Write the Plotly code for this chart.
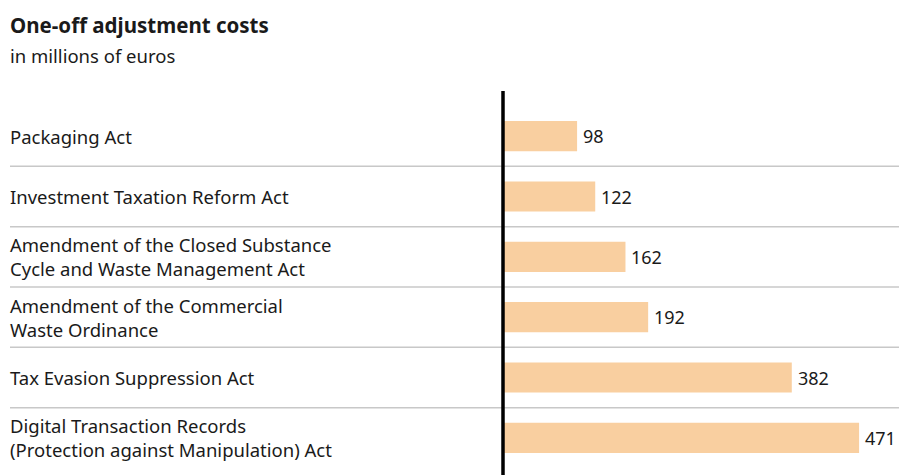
import plotly.graph_objects as go

categories = [
    "Packaging Act",
    "Investment Taxation Reform Act",
    "Amendment of the Closed Substance<br>Cycle and Waste Management Act",
    "Amendment of the Commercial<br>Waste Ordinance",
    "Tax Evasion Suppression Act",
    "Digital Transaction Records<br>(Protection against Manipulation) Act",
]
values = [98, 122, 162, 192, 382, 471]
title = "One-off adjustment costs"
subtitle = "in millions of euros"

W, H = 899, 475
FONT = "Noto Sans"
TXT = "#1a1a1a"
BAR = "#f9cfa0"

top_px, bot_px = 106, 468
ml, mr = 0, 0
mt, mb = top_px, H - bot_px
ph = bot_px - top_px
zero_px = 503
ppu = 0.756
xmin = -zero_px / ppu
xmax = (W - zero_px) / ppu

def py2paper(py):
    return (bot_px - py) / ph

ypos = list(range(len(categories)))

fig = go.Figure()
fig.add_trace(go.Bar(
    x=values, y=ypos, orientation="h",
    marker=dict(color=BAR, line=dict(width=0)),
    width=0.5, hoverinfo="skip",
))

annotations = []
for i, (c, v) in enumerate(zip(categories, values)):
    annotations.append(dict(
        x=8 / W, xref="paper", y=i, yref="y", text=c, showarrow=False,
        xanchor="left", yanchor="middle", align="left",
        font=dict(family=FONT, size=18.5, color=TXT),
    ))
    annotations.append(dict(
        x=v, xref="x", y=i, yref="y", text=str(v), showarrow=False,
        xanchor="left", yanchor="middle", xshift=4,
        font=dict(family=FONT, size=18, color=TXT),
    ))
annotations.append(dict(
    x=8 / W, xref="paper", y=py2paper(25), yref="paper", text="<b>" + title + "</b>",
    showarrow=False, xanchor="left", yanchor="middle",
    font=dict(family=FONT, size=20.5, color=TXT),
))
annotations.append(dict(
    x=8 / W, xref="paper", y=py2paper(55), yref="paper", text=subtitle,
    showarrow=False, xanchor="left", yanchor="middle",
    font=dict(family=FONT, size=18.5, color=TXT),
))

shapes = []
for i in range(len(categories) - 1):
    shapes.append(dict(
        type="line", xref="paper", yref="y", x0=10 / W, x1=1, y0=i + 0.5, y1=i + 0.5,
        line=dict(color="#c8c8c8", width=1.5), layer="below",
    ))
shapes.append(dict(
    type="line", xref="x", yref="paper", x0=0, x1=0,
    y0=py2paper(H + 2), y1=py2paper(91),
    line=dict(color="#000000", width=3.5),
))

fig.update_layout(
    width=W, height=H,
    margin=dict(l=ml, r=mr, t=mt, b=mb, pad=0),
    paper_bgcolor="white", plot_bgcolor="white",
    showlegend=False,
    xaxis=dict(range=[xmin, xmax], visible=False, fixedrange=True),
    yaxis=dict(range=[len(categories) - 0.5, -0.5], visible=False, fixedrange=True),
    annotations=annotations, shapes=shapes,
    font=dict(family=FONT, color=TXT),
)

fig.write_html("out.html", config={"displayModeBar": False})
